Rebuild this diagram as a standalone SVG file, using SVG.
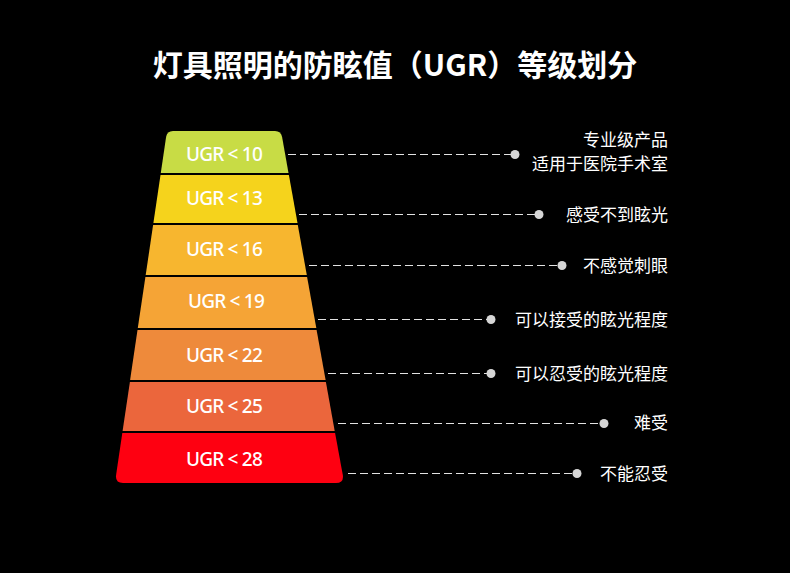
<svg xmlns="http://www.w3.org/2000/svg" width="790" height="573" viewBox="0 0 790 573">
<style>
.title{font-family:"Noto Sans CJK SC","Noto Sans",sans-serif;font-size:30px;font-weight:700;fill:#fff;text-anchor:middle}
.lvl{font-family:"Noto Sans","Noto Sans CJK SC",sans-serif;font-size:19px;font-weight:500;fill:#fff;text-anchor:middle;letter-spacing:-0.8px}
.desc{font-family:"Noto Sans CJK SC","Noto Sans",sans-serif;font-size:17px;fill:#fff;text-anchor:end}
.dash{stroke:#e2e2e2;stroke-width:1;stroke-dasharray:8 4;fill:none}
.dot{fill:#d6d6d6}
</style>
<rect width="790" height="573" fill="#000"/>
<text class="title" x="395" y="76">灯具照明的防眩值（UGR）等级划分</text>
<g id="band1"><path d="M160.8,173 L166.1,137 Q167,131 173,131 L275,131 Q281,131 282.1,137 L288.5,173 Z" fill="#c8dc45"/><text class="lvl" x="224" y="161">UGR &lt; 10</text></g>
<g id="band2"><path d="M160.5,175 L288.9,175 L297.5,223 L153.4,223 Z" fill="#f5d31c"/><text class="lvl" x="224" y="205">UGR &lt; 13</text></g>
<g id="band3"><path d="M153.1,225 L297.8,225 L306.8,275 L145.7,275 Z" fill="#f7b62f"/><text class="lvl" x="224" y="256">UGR &lt; 16</text></g>
<g id="band4"><path d="M145.4,277 L307.1,277 L316.3,328 L137.8,328 Z" fill="#f5a436"/><text class="lvl" x="226" y="308">UGR &lt; 19</text></g>
<g id="band5"><path d="M137.5,330 L316.6,330 L325.6,380 L130.1,380 Z" fill="#ee8a3b"/><text class="lvl" x="224" y="362">UGR &lt; 22</text></g>
<g id="band6"><path d="M129.9,382 L325.9,382 L334.7,431 L122.6,431 Z" fill="#eb663c"/><text class="lvl" x="224" y="413">UGR &lt; 25</text></g>
<g id="band7"><path d="M122.3,433 L335.1,433 L342.8,475 Q344,483 336,483 L123,483 Q115,483 116.1,475 Z" fill="#fe0011"/><text class="lvl" x="224" y="466">UGR &lt; 28</text></g>
<g id="connectors">
<line class="dash" x1="288" y1="154.5" x2="512" y2="154.5"/><circle class="dot" cx="515" cy="154.5" r="4.5"/>
<line class="dash" x1="299" y1="214.5" x2="536" y2="214.5"/><circle class="dot" cx="539" cy="214.5" r="4.5"/>
<line class="dash" x1="309" y1="265.5" x2="559" y2="265.5"/><circle class="dot" cx="562" cy="265.5" r="4.5"/>
<line class="dash" x1="318" y1="319.5" x2="488" y2="319.5"/><circle class="dot" cx="491" cy="319.5" r="4.5"/>
<line class="dash" x1="328" y1="373.5" x2="488" y2="373.5"/><circle class="dot" cx="491" cy="373.5" r="4.5"/>
<line class="dash" x1="338" y1="423.5" x2="601" y2="423.5"/><circle class="dot" cx="604" cy="423.5" r="4.5"/>
<line class="dash" x1="348" y1="473.5" x2="574" y2="473.5"/><circle class="dot" cx="577" cy="473.5" r="4.5"/>
</g>
<g id="labels">
<text class="desc" x="668" y="146">专业级产品</text>
<text class="desc" x="668" y="170">适用于医院手术室</text>
<text class="desc" x="668" y="221">感受不到眩光</text>
<text class="desc" x="668" y="272">不感觉刺眼</text>
<text class="desc" x="668" y="326">可以接受的眩光程度</text>
<text class="desc" x="668" y="380">可以忍受的眩光程度</text>
<text class="desc" x="668" y="429">难受</text>
<text class="desc" x="668" y="480">不能忍受</text>
</g>
</svg>
